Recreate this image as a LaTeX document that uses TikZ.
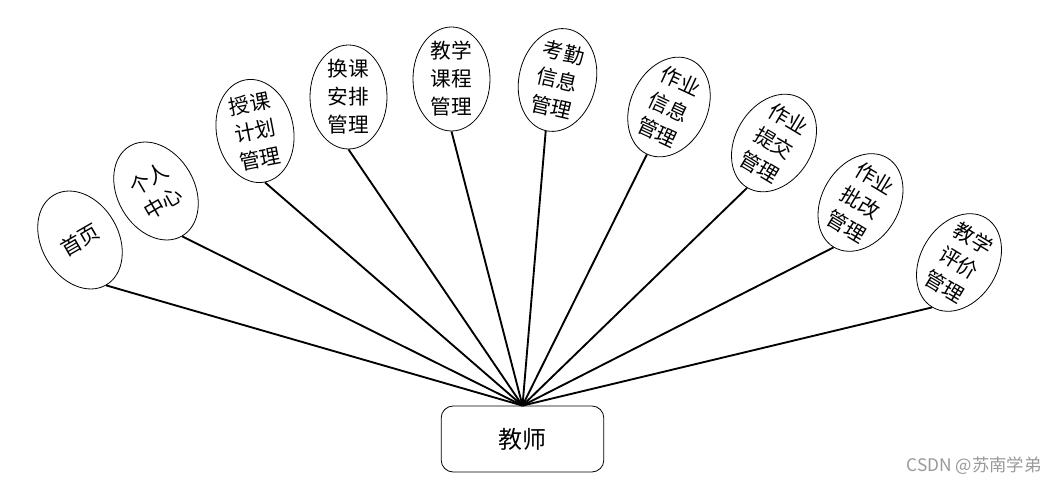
\documentclass[tikz,border=0pt]{standalone}
\usepackage{fontspec}
\setmainfont{Noto Sans CJK SC}
\usetikzlibrary{shapes.geometric}

\begin{document}
\begin{tikzpicture}[x=0.75pt, y=-0.75pt]
  \tikzset{mod/.style={draw, ellipse, line width=0.6pt, inner xsep=0pt,
      inner ysep=-4pt, minimum width=57.75pt, minimum height=78pt,
      align=center, font=\fontsize{15.5}{21}\selectfont},
    link/.style={line width=1.4pt}}
  \useasboundingbox (0,0) rectangle (1057,484);
  \node[draw, line width=0.6pt, rounded corners=9pt, minimum width=122pt,
    minimum height=49.5pt, font=\fontsize{18}{20}\selectfont] (t) at (522.5,439) {教师};
  \node[mod, rotate=30] (m1) at (80,240) {首页};
  \node[mod, rotate=30] (m2) at (156,191) {个人\\中心};
  \node[mod, rotate=11] (m3) at (255,131) {授课\\计划\\管理};
  \node[mod] (m4) at (348.5,97) {换课\\安排\\管理};
  \node[mod] (m5) at (451.5,79) {教学\\课程\\管理};
  \node[mod, rotate=-13] (m6) at (557.5,80) {考勤\\信息\\管理};
  \node[mod, rotate=-25] (m7) at (669,107) {作业\\信息\\管理};
  \node[mod, rotate=-31] (m8) at (774,143) {作业\\提交\\管理};
  \node[mod, rotate=-31] (m9) at (860.5,202.5) {作业\\批改\\管理};
  \node[mod, rotate=-31] (m10) at (959,262.5) {教学\\评价\\管理};
  \foreach \i in {1,...,10}
    \draw[link] (t.north) -- (m\i.south);
  \node[text=black!40, font=\fontsize{13}{14}\selectfont] (wm) at (974,466) {CSDN @苏南学弟};
\end{tikzpicture}
\end{document}
